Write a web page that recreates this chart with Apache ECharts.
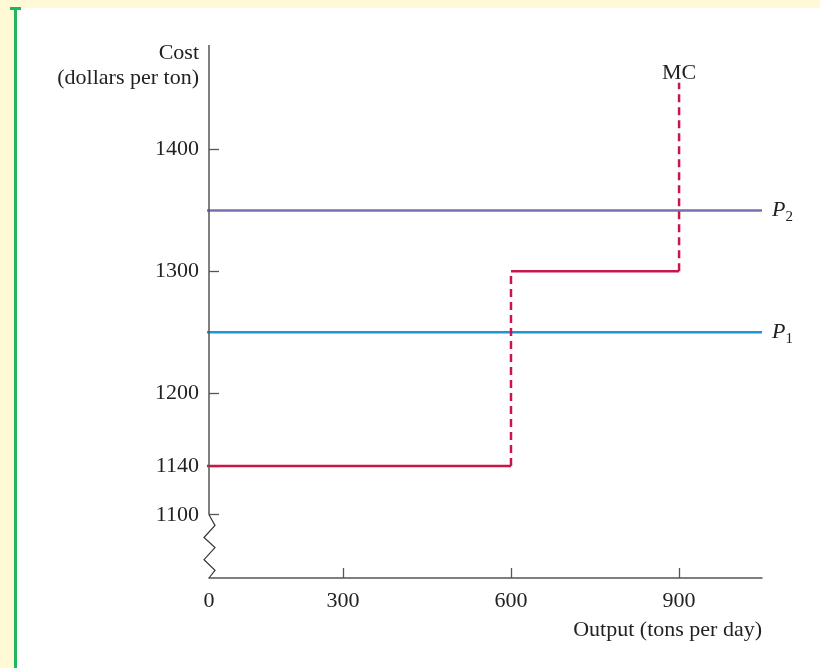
<!DOCTYPE html>
<html>
<head>
<meta charset="utf-8">
<script src="https://cdn.jsdelivr.net/npm/echarts@6/dist/echarts.min.js"></script>
<style>
  html, body { margin: 0; padding: 0; width: 820px; height: 668px; background: #fff9d6; overflow: hidden; }
  #panel { position: absolute; left: 17px; top: 8px; width: 803px; height: 660px; background: #ffffff; }
  #gline { position: absolute; left: 14px; top: 8px; width: 3px; height: 660px; background: #1fb65c; }
  #gcap { position: absolute; left: 10px; top: 7px; width: 11px; height: 3px; background: #1fb65c; }
  #chart { position: absolute; left: 0; top: 0; width: 820px; height: 668px; }
</style>
</head>
<body>
<div id="panel"></div>
<div id="gline"></div>
<div id="gcap"></div>
<div id="chart"></div>
<script>
// ---- data ----
const xTicks = [0, 300, 600, 900];
const yTicks = [1100, 1140, 1200, 1300, 1400];
const mcLow = [[0, 1140], [600, 1140]];
const mcStep1 = [[600, 1140], [600, 1300]];
const mcMid = [[600, 1300], [900, 1300]];
const mcStep2 = [[900, 1300], [900, 1455]];
const p1 = [[0, 1250], [1048, 1250]];
const p2 = [[0, 1350], [1048, 1350]];
// visible axis ranges (axes are broken near the origin)
const X_MIN = 61, X_MAX = 1048;
const Y_MIN = 1048, Y_MAX = 1486;
const Y_BREAK = 1100;

const FONT = '"Liberation Serif", "DejaVu Serif", serif';
const FS = 22;
const TXT = '#222';
const AX = '#555';
const MC = '#c8164b';
const P1C = '#1c97d4';
const P2C = '#7b6db4';

const chart = echarts.init(document.getElementById('chart'), null, { renderer: 'canvas' });

function seg(data, color, dashed, extra) {
  return Object.assign({
    type: 'line',
    data: data,
    showSymbol: false,
    symbol: 'none',
    clip: true,
    lineStyle: { color: color, width: 2.5, type: dashed ? [8, 5] : 'solid', cap: 'butt' },
    itemStyle: { color: color },
    emphasis: { disabled: true },
    z: 3
  }, extra || {});
}

const pRich = {
  i: { fontFamily: FONT, fontStyle: 'italic', fontSize: FS, color: TXT },
  s: { fontFamily: FONT, fontSize: 15, color: TXT, padding: [13, 0, 0, 0] }
};

const option = {
  animation: false,
  backgroundColor: 'transparent',
  grid: { left: 209, right: 58, top: 45, bottom: 90, containLabel: false },
  xAxis: {
    type: 'value',
    min: X_MIN,
    max: X_MAX,
    splitLine: { show: false },
    axisLine: { show: true, lineStyle: { color: AX, width: 1.5 } },
    axisTick: { show: true, inside: true, length: 10, lineStyle: { color: AX, width: 1.3 },
      customValues: xTicks.filter(v => v >= X_MIN) },
    axisLabel: {
      show: true, margin: 12, color: TXT, fontFamily: FONT, fontSize: FS,
      customValues: xTicks.map(v => Math.max(v, X_MIN)),
      formatter: function (v) { return v <= X_MIN ? String(xTicks[0]) : String(v); }
    },
    name: 'Output (tons per day)',
    nameLocation: 'end',
    nameGap: 0,
    nameTextStyle: { color: TXT, fontFamily: FONT, fontSize: FS, align: 'right', verticalAlign: 'top', padding: [41, 0, 0, 0] }
  },
  yAxis: {
    type: 'value',
    min: Y_MIN,
    max: Y_MAX,
    splitLine: { show: false },
    axisLine: { show: false },
    axisTick: { show: true, inside: true, length: 10, lineStyle: { color: AX, width: 1.3 }, customValues: yTicks },
    axisLabel: { show: true, margin: 10, color: TXT, fontFamily: FONT, fontSize: FS, customValues: yTicks,
      formatter: function (v) { return String(v); } },
    name: 'Cost\n(dollars per ton)',
    nameLocation: 'end',
    nameGap: 4,
    nameTextStyle: { color: TXT, fontFamily: FONT, fontSize: FS, lineHeight: 25, align: 'right', verticalAlign: 'top', padding: [0, 10, 0, 0] }
  },
  series: [
    seg(p2, P2C, false, {
      endLabel: { show: true, distance: 10, formatter: '{i|P}{s|2}', rich: pRich }
    }),
    seg(p1, P1C, false, {
      endLabel: { show: true, distance: 10, formatter: '{i|P}{s|1}', rich: pRich }
    }),
    seg(mcLow, MC, false),
    seg(mcStep1, MC, true),
    seg(mcMid, MC, false),
    seg(mcStep2, MC, true, {
      endLabel: { show: true, formatter: 'MC', color: TXT, fontFamily: FONT, fontSize: FS, align: 'center', verticalAlign: 'bottom', offset: [-8, 1] }
    })
  ]
};

chart.setOption(option);

// y-axis line with a zigzag break below 1100
const ptTop = chart.convertToPixel({ gridIndex: 0 }, [X_MIN, Y_MAX]);
const ptBrk = chart.convertToPixel({ gridIndex: 0 }, [X_MIN, Y_BREAK]);
const ptOrg = chart.convertToPixel({ gridIndex: 0 }, [X_MIN, Y_MIN]);
const x0 = ptTop[0];
const offs = [0, 6, -5, 6, -5, 6, 0];
const fr = [0, 0.17, 0.36, 0.52, 0.71, 0.88, 1];
const zig = offs.map((o, i) => [x0 + o, ptBrk[1] + (ptOrg[1] - ptBrk[1]) * fr[i]]);

chart.setOption({
  graphic: [
    { type: 'line', shape: { x1: x0, y1: ptTop[1], x2: x0, y2: ptBrk[1] }, style: { stroke: AX, lineWidth: 1.5 }, z: 5, silent: true },
    { type: 'polyline', shape: { points: zig }, style: { stroke: '#333', lineWidth: 1.2, fill: null }, z: 5, silent: true }
  ]
});
</script>
</body>
</html>
